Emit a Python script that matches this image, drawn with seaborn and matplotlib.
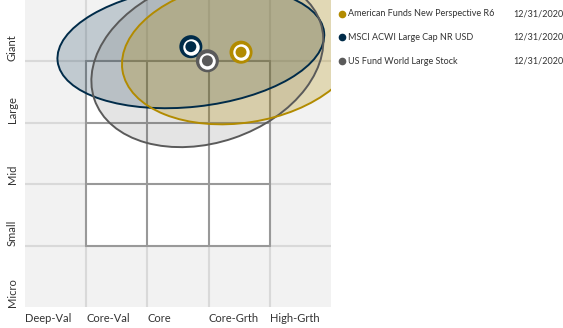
import numpy as np
import pandas as pd
import matplotlib
matplotlib.use("Agg")
import matplotlib.pyplot as plt
from matplotlib.patches import Ellipse, Rectangle
from matplotlib.lines import Line2D
import seaborn as sns

# ownership zone data (grid units: 1 unit = one style column / size row)
funds = ["American Funds New Perspective R6", "MSCI ACWI Large Cap NR USD", "US Fund World Large Stock"]
dates = ["12/31/2020", "12/31/2020", "12/31/2020"]
centroid_x = [3.53, 2.71, 2.98]
centroid_y = [4.15, 4.24, 4.01]
zone_width = [3.92, 4.38, 3.90]
zone_height = [2.30, 1.96, 2.66]
zone_angle = [8.7, 6.2, 18.7]

style_labels = ["Deep-Val", "Core-Val", "Core", "Core-Grth", "High-Grth"]
size_labels = ["Micro", "Small", "Mid", "Large", "Giant"]

colors = ["#B28B00", "#002B49", "#5A5A5A"]
fill_alpha = [0.25, 0.2, 0.16]

sns.set_style("white")
plt.rcParams["font.family"] = ["Lato", "DejaVu Sans"]

fig = plt.figure(figsize=(5.63, 3.28), dpi=100)
W, H = 563, 328
ax = fig.add_axes([25 / W, 21 / H, (331 - 25) / W, 307 / H])
ax.set_xlim(0, 5)
ax.set_ylim(0, 5)
ax.set_facecolor("#F2F2F2")

# light grid over the whole area
for v in range(1, 5):
    ax.axvline(v, color="#D9D9D9", lw=1.5, zorder=1)
    ax.axhline(v, color="#D9D9D9", lw=1.5, zorder=1)

# 3x3 style box
ax.add_patch(Rectangle((1, 1), 3, 3, facecolor="white", edgecolor="none", zorder=2))
for v in range(1, 5):
    ax.plot([v, v], [1, 4], color="#999999", lw=1.5, zorder=3)
    ax.plot([1, 4], [v, v], color="#999999", lw=1.5, zorder=3)

# ownership zones
for i in [1, 2, 0]:
    ax.add_patch(Ellipse((centroid_x[i], centroid_y[i]), zone_width[i], zone_height[i],
                         angle=zone_angle[i], facecolor=colors[i], alpha=fill_alpha[i],
                         edgecolor="none", zorder=4))
    ax.add_patch(Ellipse((centroid_x[i], centroid_y[i]), zone_width[i], zone_height[i],
                         angle=zone_angle[i], facecolor="none", edgecolor=colors[i],
                         lw=1.4, zorder=5))

df = pd.DataFrame({"fund": funds, "x": centroid_x, "y": centroid_y})
pal = dict(zip(funds, colors))
sns.scatterplot(data=df, x="x", y="y", hue="fund", palette=pal, s=275, linewidth=0,
                legend=False, ax=ax, zorder=6)
sns.scatterplot(data=df, x="x", y="y", color="white", s=140, linewidth=0,
                legend=False, ax=ax, zorder=7)
sns.scatterplot(data=df, x="x", y="y", hue="fund", palette=pal, s=62, linewidth=0,
                legend=False, ax=ax, zorder=8)

ax.set_xlabel("")
ax.set_ylabel("")
ax.set_xticks(range(5))
ax.set_xticklabels(style_labels, ha="left", fontsize=8, color="#333333")
ax.set_yticks(range(5))
ax.set_yticklabels(size_labels, rotation=90, va="bottom", ha="center", fontsize=8, color="#333333")
ax.tick_params(length=0, pad=4)
ax.tick_params(axis="y", pad=9)
for s in ax.spines.values():
    s.set_visible(False)

# legend on the right
for i, ypix in enumerate([14, 37, 61]):
    yf = 1 - ypix / H
    fig.add_artist(Line2D([342 / W], [yf], marker="o", markersize=4.5, color=colors[i],
                          lw=0, transform=fig.transFigure))
    fig.text(348 / W, yf, funds[i], fontsize=6.5, va="center", ha="left", color="#333333")
    fig.text(513 / W, yf, dates[i], fontsize=6.5, va="center", ha="left", color="#333333")

fig.savefig("out.png", dpi=100)
